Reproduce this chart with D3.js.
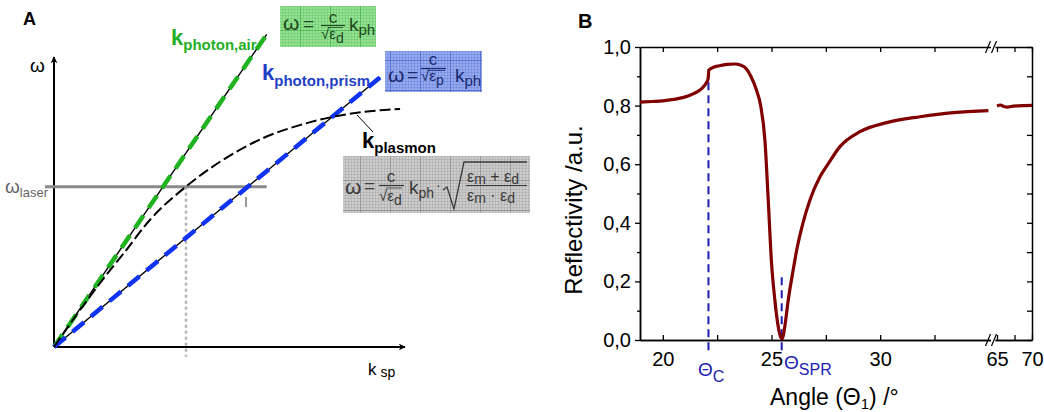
<!DOCTYPE html>
<html>
<head>
<meta charset="utf-8">
<script src="https://cdn.jsdelivr.net/npm/d3@7"></script>
<style>
  body { margin: 0; background: #fff; }
  svg { font-family: "Liberation Sans", Arial, sans-serif; }
</style>
</head>
<body>
<div id="chart"></div>
<script>
// ---- panel A : schematic dispersion relation (arbitrary units) ----
var airLine = [[0, 0], [6.06, 10.78]];
var prismLine = [[0, 0], [9.29, 9.30]];
var plasmonK = [0, 0.5, 1.0, 1.5, 2.0, 2.73, 3.76, 4.81, 5.95, 7.0, 7.95, 9.0, 9.86];
var plasmonW = [0, 0.87, 1.70, 2.50, 3.25, 4.38, 5.53, 6.45, 7.20, 7.65, 7.94, 8.13, 8.21];
var laserW = 5.53;
var laserK = [-0.26, 6.06];
var kMatch = 3.76;

// ---- panel B : SPR reflectivity curve ----
var angleLeft = [18.95, 19.5, 20.0, 20.5, 21.0, 21.3, 21.6, 21.8, 22.0, 22.08, 22.12, 22.25, 22.6, 22.95,
  23.3, 23.6, 23.85, 24.05, 24.3, 24.5, 24.7, 24.85, 25.0, 25.15, 25.3, 25.42, 25.5, 25.6, 25.77,
  26.0, 26.16, 26.45, 26.77, 27.23, 27.6, 28.15, 29.07, 30.3, 31.84, 33.37, 34.98];
var reflLeft = [0.812, 0.814, 0.816, 0.821, 0.829, 0.837, 0.848, 0.859, 0.877, 0.890, 0.921, 0.928, 0.936, 0.941,
  0.942, 0.938, 0.925, 0.900, 0.855, 0.800, 0.680, 0.478, 0.265, 0.140, 0.050, 0.010, 0.004, 0.040, 0.136,
  0.240, 0.307, 0.400, 0.478, 0.557, 0.600, 0.660, 0.711, 0.742, 0.762, 0.776, 0.783];
var angleRight = [65.0, 65.5, 66.0, 66.5, 67.0, 68.0, 69.0, 70.0];
var reflRight = [0.799, 0.802, 0.797, 0.795, 0.797, 0.799, 0.800, 0.801];
var thetaC = 22.1, thetaCTop = 0.925;
var thetaSPR = 25.47, thetaSPRTop = 0.23;
var yMajor = [0, 0.2, 0.4, 0.6, 0.8, 1.0];
var yMinor = [0.1, 0.3, 0.5, 0.7, 0.9];
var xMajorLeft = [20, 25, 30];
var xMinorLeft = [22.5, 27.5, 32.5];
var xMajorRight = [65, 70];
var xMinorRight = [67.5];

var width = 1044, height = 412;

var svg = d3.select("#chart").append("svg")
    .attr("width", width)
    .attr("height", height);

var defs = svg.append("defs");

// arrow head for the schematic axes
defs.append("marker")
    .attr("id", "arrow")
    .attr("viewBox", "0 0 10 10")
    .attr("refX", 9).attr("refY", 5)
    .attr("markerWidth", 7).attr("markerHeight", 7)
    .attr("markerUnits", "userSpaceOnUse")
    .attr("orient", "auto")
    .append("path")
    .attr("d", "M0,0 L10,5 L0,10 L3,5 Z")
    .attr("fill", "#000");

// grid paper fill for the formula boxes
function gridPattern(id, bg, line) {
    var p = defs.append("pattern")
        .attr("id", id)
        .attr("patternUnits", "userSpaceOnUse")
        .attr("width", 30).attr("height", 30);
    p.append("rect").attr("width", 30).attr("height", 30).attr("fill", bg);
    for (var i = 0; i < 30; i += 3) {
        p.append("line").attr("x1", i + 0.5).attr("x2", i + 0.5).attr("y1", 0).attr("y2", 30)
            .attr("stroke", line).attr("stroke-opacity", 0.25).attr("stroke-width", 1);
        p.append("line").attr("y1", i + 0.5).attr("y2", i + 0.5).attr("x1", 0).attr("x2", 30)
            .attr("stroke", line).attr("stroke-opacity", 0.25).attr("stroke-width", 1);
    }
    p.append("line").attr("x1", 0.5).attr("x2", 0.5).attr("y1", 0).attr("y2", 30)
        .attr("stroke", line).attr("stroke-opacity", 0.7);
    p.append("line").attr("y1", 0.5).attr("y2", 0.5).attr("x1", 0).attr("x2", 30)
        .attr("stroke", line).attr("stroke-opacity", 0.7);
}
gridPattern("gGreen", "#93e293", "#4caf4c");
gridPattern("gBlue", "#94a9ef", "#4d66c8");
gridPattern("gGray", "#cbcbcb", "#8c8c8c");

// text with sub/superscripts: parts = [[text, size, offset]]
function rich(parent, x, y, parts, fill, weight) {
    var t = parent.append("text")
        .attr("x", x).attr("y", y)
        .attr("fill", fill || "#000")
        .attr("font-weight", weight || "normal");
    var cur = 0;
    parts.forEach(function(p) {
        var off = p[2] || 0;
        t.append("tspan").attr("font-size", p[1]).attr("dy", off - cur).text(p[0]);
        cur = off;
    });
    return t;
}

// =================== Panel A ===================
var gA = svg.append("g");

var kx = d3.scaleLinear().domain([0, 10]).range([54, 405]);
var wy = d3.scaleLinear().domain([0, 10]).range([347, 57]);

var line = d3.line()
    .x(function(d) { return kx(d[0]); })
    .y(function(d) { return wy(d[1]); });

// axes with arrows
gA.append("line")
    .attr("x1", kx(0)).attr("y1", wy(0))
    .attr("x2", kx(0)).attr("y2", wy(10))
    .attr("stroke", "#000").attr("stroke-width", 2)
    .attr("marker-end", "url(#arrow)");
gA.append("line")
    .attr("x1", kx(0)).attr("y1", wy(0))
    .attr("x2", kx(10)).attr("y2", wy(0))
    .attr("stroke", "#000").attr("stroke-width", 2)
    .attr("marker-end", "url(#arrow)");

// vertical dotted line at the matching k
gA.append("line")
    .attr("x1", kx(kMatch)).attr("x2", kx(kMatch))
    .attr("y1", wy(laserW)).attr("y2", wy(-0.34))
    .attr("stroke", "#b5b5b5").attr("stroke-width", 2.5)
    .attr("stroke-dasharray", "3,3");

// laser frequency
gA.append("line")
    .attr("x1", kx(laserK[0])).attr("x2", kx(laserK[1]))
    .attr("y1", wy(laserW)).attr("y2", wy(laserW))
    .attr("stroke", "#8a8a8a").attr("stroke-width", 3);

// photon lines: thin black line with coloured dashes
[[airLine, "#1fb31f"], [prismLine, "#1033f0"]].forEach(function(l) {
    gA.append("path").attr("d", line(l[0]))
        .attr("fill", "none").attr("stroke", "#000").attr("stroke-width", 1.4);
    gA.append("path").attr("d", line(l[0]))
        .attr("fill", "none").attr("stroke", l[1]).attr("stroke-width", 4.5)
        .attr("stroke-dasharray", "15,9");
});

// plasmon dispersion
var plasmon = plasmonK.map(function(k, i) { return [k, plasmonW[i]]; });
gA.append("path")
    .attr("d", line.curve(d3.curveMonotoneX)(plasmon))
    .attr("fill", "none").attr("stroke", "#000").attr("stroke-width", 2)
    .attr("stroke-dasharray", "11,4");
line.curve(d3.curveLinear);

// small tick where prism line meets the laser line
gA.append("line")
    .attr("x1", 246).attr("x2", 246).attr("y1", 197).attr("y2", 207)
    .attr("stroke", "#333").attr("stroke-width", 1);

// pointer to plasmon label
gA.append("line")
    .attr("x1", 357).attr("y1", 115).attr("x2", 373).attr("y2", 132)
    .attr("stroke", "#000").attr("stroke-width", 1);

// labels
gA.append("text").attr("x", 23).attr("y", 25)
    .attr("font-size", 18).attr("font-weight", "bold").text("A");
gA.append("text").attr("x", 30).attr("y", 72)
    .attr("font-size", 19).text("ω");
rich(gA, 368, 375, [["k", 17, 0], [" sp", 14, 2]]);
rich(gA, 5, 193, [["ω", 19, 0], ["laser", 13, 4]], "#666");

rich(gA, 171, 45, [["k", 22, 0], ["photon,air", 15, 5]], "#22b022", "bold");
rich(gA, 262, 80, [["k", 22, 0], ["photon,prism", 15, 6]], "#1f3fc4", "bold");
rich(gA, 362, 148, [["k", 22, 0], ["plasmon", 15, 5]], "#000", "bold");

function box(g, x0, y0, w, h, fill) {
    g.append("rect").attr("x", x0).attr("y", y0).attr("width", w).attr("height", h)
        .attr("fill", "url(#" + fill + ")");
}

// green: omega = c / sqrt(eps_d) k_ph
box(gA, 280, 6, 96, 41, "gGreen");
var cg = "#1d4a1d";
rich(gA, 283, 30, [["ω", 21, 0]], cg);
rich(gA, 303, 30, [["=", 19, 0]], cg);
gA.append("text").attr("x", 333).attr("y", 23).attr("text-anchor", "middle")
    .attr("font-size", 17).attr("fill", cg).text("c");
gA.append("line").attr("x1", 321).attr("x2", 345).attr("y1", 25.5).attr("y2", 25.5)
    .attr("stroke", cg).attr("stroke-width", 1.2);
rich(gA, 321, 39, [["√ε", 15, 0], ["d", 14, 4]], cg);
gA.append("line").attr("x1", 328).attr("x2", 343).attr("y1", 27.5).attr("y2", 27.5)
    .attr("stroke", cg).attr("stroke-width", 0.8);
rich(gA, 349, 31, [["k", 19, 0], ["ph", 15, 4]], cg);

// blue: omega = c / sqrt(eps_p) k_ph
box(gA, 385, 51, 97, 41, "gBlue");
var cb = "#1a2870";
rich(gA, 388, 82, [["ω", 21, 0]], cb);
rich(gA, 407, 81, [["=", 19, 0]], cb);
gA.append("text").attr("x", 433).attr("y", 65).attr("text-anchor", "middle")
    .attr("font-size", 17).attr("fill", cb).text("c");
gA.append("line").attr("x1", 421).attr("x2", 446).attr("y1", 68.5).attr("y2", 68.5)
    .attr("stroke", cb).attr("stroke-width", 1.2);
rich(gA, 421, 81, [["√ε", 15, 0], ["p", 14, 4]], cb);
gA.append("line").attr("x1", 428).attr("x2", 445).attr("y1", 70.5).attr("y2", 70.5)
    .attr("stroke", cb).attr("stroke-width", 0.8);
rich(gA, 455, 82, [["k", 19, 0], ["ph", 15, 4]], cb);

// gray: plasmon dispersion
box(gA, 343, 156, 187, 57, "gGray");
var cgr = "#3a3a3a";
rich(gA, 345, 194, [["ω", 21, 0]], cgr);
rich(gA, 364, 192, [["=", 19, 0]], cgr);
gA.append("text").attr("x", 391).attr("y", 182).attr("text-anchor", "middle")
    .attr("font-size", 17).attr("fill", cgr).text("c");
gA.append("line").attr("x1", 379).attr("x2", 404).attr("y1", 185.5).attr("y2", 185.5)
    .attr("stroke", cgr).attr("stroke-width", 1.2);
rich(gA, 379, 201, [["√ε", 15, 0], ["d", 14, 4]], cgr);
gA.append("line").attr("x1", 386).attr("x2", 402).attr("y1", 188).attr("y2", 188)
    .attr("stroke", cgr).attr("stroke-width", 0.8);
rich(gA, 409, 194, [["k", 19, 0], ["ph", 14, 4]], cgr);
gA.append("text").attr("x", 436).attr("y", 190).attr("font-size", 14).attr("fill", cgr).text("·");
gA.append("path")
    .attr("d", "M443,190 L447,187 L454,209 L464,162 L527,162")
    .attr("fill", "none").attr("stroke", cgr).attr("stroke-width", 1.3);
rich(gA, 467, 182, [["ε", 16, 0], ["m", 14, 2], [" + ε", 16, 0], ["d", 14, 2]], cgr);
gA.append("line").attr("x1", 466).attr("x2", 527).attr("y1", 185.5).attr("y2", 185.5)
    .attr("stroke", cgr).attr("stroke-width", 1.2);
rich(gA, 467, 201, [["ε", 16, 0], ["m", 14, 2], [" · ε", 16, 0], ["d", 14, 2]], cgr);

// =================== Panel B ===================
var gB = svg.append("g");

var xL = d3.scaleLinear().domain([18.95, 35.1]).range([640, 991]);
var xR = d3.scaleLinear().domain([64.714, 70]).range([995, 1032]);
var y = d3.scaleLinear().domain([0, 1]).range([340, 47]);

var comma = function(d) { return d3.format(".1f")(d).replace(".", ","); };

function styleAxis(g) {
    g.selectAll("path").attr("stroke", "#000").attr("stroke-width", 1.5);
    g.selectAll("line").attr("stroke", "#000").attr("stroke-width", 1.3);
    g.selectAll("text").attr("font-size", 20).attr("fill", "#000")
        .attr("font-family", "Liberation Sans, Arial, sans-serif");
}

// left axis, ticks outward
gB.append("g").attr("transform", "translate(640,0)")
    .call(d3.axisLeft(y).tickValues(yMajor).tickSize(5).tickSizeOuter(0).tickPadding(4).tickFormat(comma))
    .call(styleAxis);
gB.append("g").attr("transform", "translate(640,0)")
    .call(d3.axisLeft(y).tickValues(yMinor).tickSize(3).tickSizeOuter(0).tickFormat(""))
    .call(styleAxis);
// right axis, ticks inward
gB.append("g").attr("transform", "translate(1032,0)")
    .call(d3.axisRight(y).tickValues(yMajor.concat(yMinor)).tickSize(-5).tickSizeOuter(0).tickFormat(""))
    .call(styleAxis);

// bottom and top axes, two segments each (broken)
[[xL, xMajorLeft, xMinorLeft], [xR, xMajorRight, xMinorRight]].forEach(function(s) {
    gB.append("g").attr("transform", "translate(0,340)")
        .call(d3.axisBottom(s[0]).tickValues(s[1]).tickSize(-5).tickSizeOuter(0).tickPadding(12).tickFormat(d3.format("d")))
        .call(styleAxis);
    gB.append("g").attr("transform", "translate(0,340)")
        .call(d3.axisBottom(s[0]).tickValues(s[2]).tickSize(-5).tickSizeOuter(0).tickFormat(""))
        .call(styleAxis);
    gB.append("g").attr("transform", "translate(0,47)")
        .call(d3.axisTop(s[0]).tickValues(s[1].concat(s[2])).tickSize(-5).tickSizeOuter(0).tickFormat(""))
        .call(styleAxis);
});

// hide the 65 tick under the break, draw break marks
[47, 340].forEach(function(yy) {
    gB.append("rect").attr("x", 991).attr("y", yy - 6).attr("width", 4).attr("height", 12).attr("fill", "#fff");
    [988, 994].forEach(function(xx) {
        gB.append("line")
            .attr("x1", xx - 2.5).attr("y1", yy + 6)
            .attr("x2", xx + 2.5).attr("y2", yy - 6)
            .attr("stroke", "#000").attr("stroke-width", 1.2);
    });
});

// dashed markers for critical angle and SPR angle
[[thetaC, thetaCTop], [thetaSPR, thetaSPRTop]].forEach(function(m) {
    gB.append("line")
        .attr("x1", xL(m[0])).attr("x2", xL(m[0]))
        .attr("y1", y(-0.035)).attr("y2", y(m[1]))
        .attr("stroke", "#1c1cb0").attr("stroke-width", 2)
        .attr("stroke-dasharray", "8,5");
});

// reflectivity curve
var lineL = d3.line().curve(d3.curveMonotoneX)
    .x(function(d, i) { return xL(angleLeft[i]); })
    .y(function(d) { return y(d); });
var lineR = d3.line().curve(d3.curveMonotoneX)
    .x(function(d, i) { return xR(angleRight[i]); })
    .y(function(d) { return y(d); });
gB.append("path").attr("d", lineL(reflLeft))
    .attr("fill", "none").attr("stroke", "#800000").attr("stroke-width", 3.2);
gB.append("path").attr("d", lineR(reflRight))
    .attr("fill", "none").attr("stroke", "#800000").attr("stroke-width", 3.2);

// labels
gB.append("text").attr("x", 578).attr("y", 28)
    .attr("font-size", 20).attr("font-weight", "bold").text("B");
gB.append("text")
    .attr("transform", "translate(582,210) rotate(-90)")
    .attr("text-anchor", "middle").attr("font-size", 24)
    .text("Reflectivity /a.u.");
rich(gB, 770, 405, [["Angle (Θ", 23, 0], ["1", 15, 4], [") /°", 23, 0]]);
rich(gB, 698, 376, [["Θ", 19, 0], ["C", 16, 6]], "#1c1cb0");
rich(gB, 784, 369, [["Θ", 19, 0], ["SPR", 16, 6]], "#1c1cb0");
</script>
</body>
</html>
